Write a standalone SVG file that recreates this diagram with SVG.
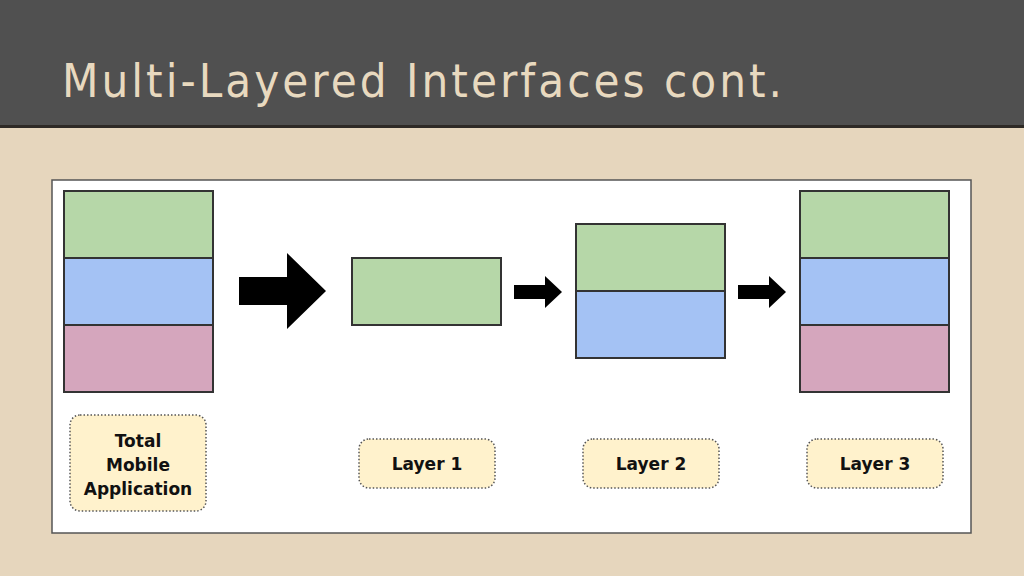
<svg xmlns="http://www.w3.org/2000/svg" width="1024" height="576" viewBox="0 0 1024 576">
<style>
.g{fill:#b6d7a8}.b{fill:#a4c2f4}.p{fill:#d5a6bd}
.blk rect{stroke:#333;stroke-width:2}
.lbl rect{fill:#fff2cc;stroke:#555;stroke-width:1.5;stroke-dasharray:1.5 2}
.lbl text{font-family:"DejaVu Sans",sans-serif;font-weight:bold;font-size:17px;fill:#111;text-anchor:middle}
</style>
<rect width="1024" height="576" fill="#e6d6bd"/>
<rect width="1024" height="126" fill="#505050"/>
<rect y="125" width="1024" height="3" fill="#2e2a26"/>
<text x="62" y="97" font-family="DejaVu Sans Condensed, sans-serif" font-size="47" fill="#e8d9bf" textLength="720">Multi-Layered Interfaces cont.</text>
<rect x="52" y="180" width="919" height="353" fill="#fff" stroke="#555" stroke-width="1.5"/>
<g id="total" class="blk"><rect class="g" x="64" y="191" width="149" height="67"/><rect class="b" x="64" y="258" width="149" height="67"/><rect class="p" x="64" y="325" width="149" height="67"/></g>
<g id="layer1blk" class="blk"><rect class="g" x="352" y="258" width="149" height="67"/></g>
<g id="layer2blk" class="blk"><rect class="g" x="576" y="224" width="149" height="67"/><rect class="b" x="576" y="291" width="149" height="67"/></g>
<g id="layer3blk" class="blk"><rect class="g" x="800" y="191" width="149" height="67"/><rect class="b" x="800" y="258" width="149" height="67"/><rect class="p" x="800" y="325" width="149" height="67"/></g>
<g id="connectors" fill="#000">
<polygon points="239,277 287,277 287,253 326,291 287,329 287,305 239,305"/>
<polygon points="514,285 545,285 545,276 562,292 545,308 545,299 514,299"/>
<polygon points="738,285 769,285 769,276 786,292 769,308 769,299 738,299"/>
</g>
<g id="lbl-total" class="lbl"><rect x="70" y="415" width="136" height="96" rx="10"/><text x="138" y="447">Total</text><text x="138" y="471">Mobile</text><text x="138" y="495">Application</text></g>
<g id="lbl-1" class="lbl"><rect x="359" y="439" width="136" height="49" rx="10"/><text x="427" y="470">Layer 1</text></g>
<g id="lbl-2" class="lbl"><rect x="583" y="439" width="136" height="49" rx="10"/><text x="651" y="470">Layer 2</text></g>
<g id="lbl-3" class="lbl"><rect x="807" y="439" width="136" height="49" rx="10"/><text x="875" y="470">Layer 3</text></g>
</svg>
